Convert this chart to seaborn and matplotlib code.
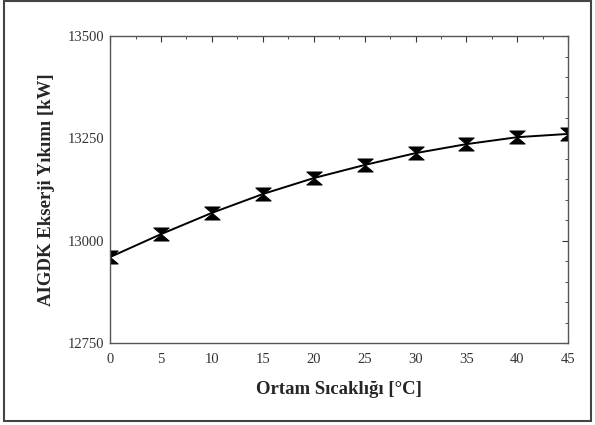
import seaborn as sns
import matplotlib.pyplot as plt
import numpy as np
import pandas as pd
from matplotlib.path import Path
from matplotlib.patches import Rectangle
from matplotlib.ticker import MultipleLocator

# data
sicaklik = [0, 5, 10, 15, 20, 25, 30, 35, 40, 45]
yikim = [12960, 13016, 13068, 13114, 13153, 13185, 13214, 13236, 13253, 13261]

df = pd.DataFrame({'T': sicaklik, 'Ex': yikim})

sns.set_style('white')
plt.rcParams['font.family'] = ['Liberation Serif', 'DejaVu Serif']

# hourglass marker
hourglass = Path([(-1, 0.85), (1, 0.85), (0, 0), (1, -0.85), (-1, -0.85), (0, 0), (-1, 0.85)],
                 [Path.MOVETO, Path.LINETO, Path.LINETO, Path.LINETO,
                  Path.LINETO, Path.LINETO, Path.CLOSEPOLY])

fig, ax = plt.subplots(figsize=(5.95, 4.25), dpi=100)
fig.subplots_adjust(left=0.185, right=0.955, top=0.915, bottom=0.193)

sns.lineplot(data=df, x='T', y='Ex', ax=ax, color='black', linewidth=1.4,
             marker=hourglass, markersize=11, markeredgecolor='black',
             markerfacecolor='black')

ax.set_xlim(0, 45)
ax.set_ylim(12750, 13500)
ax.xaxis.set_major_locator(MultipleLocator(5))
ax.xaxis.set_minor_locator(MultipleLocator(2.5))
ax.yaxis.set_major_locator(MultipleLocator(250))
ax.yaxis.set_minor_locator(MultipleLocator(50))
ax.tick_params(which='both', direction='in', top=True, right=True,
               labelsize=10.5, colors='#333333')
ax.tick_params(which='major', length=4)
ax.tick_params(which='minor', length=2.5)
ax.tick_params(axis='x', which='major', pad=7)
ax.tick_params(axis='y', which='major', pad=4)
for s in ax.spines.values():
    s.set_color('#555555')
    s.set_linewidth(1)

ax.set_xlabel('Ortam Sıcaklığı [°C]', fontsize=13.5, fontweight='bold', labelpad=11)
ax.set_ylabel('AIGDK Ekserji Yıkımı [kW]', fontsize=13.5, fontweight='bold', labelpad=9)

# outer frame
fig.patches.append(Rectangle((0.007, 0.01), 0.987, 0.987, transform=fig.transFigure,
                             fill=False, edgecolor='#444444', linewidth=1.5))

fig.savefig('out.png', dpi=100)
